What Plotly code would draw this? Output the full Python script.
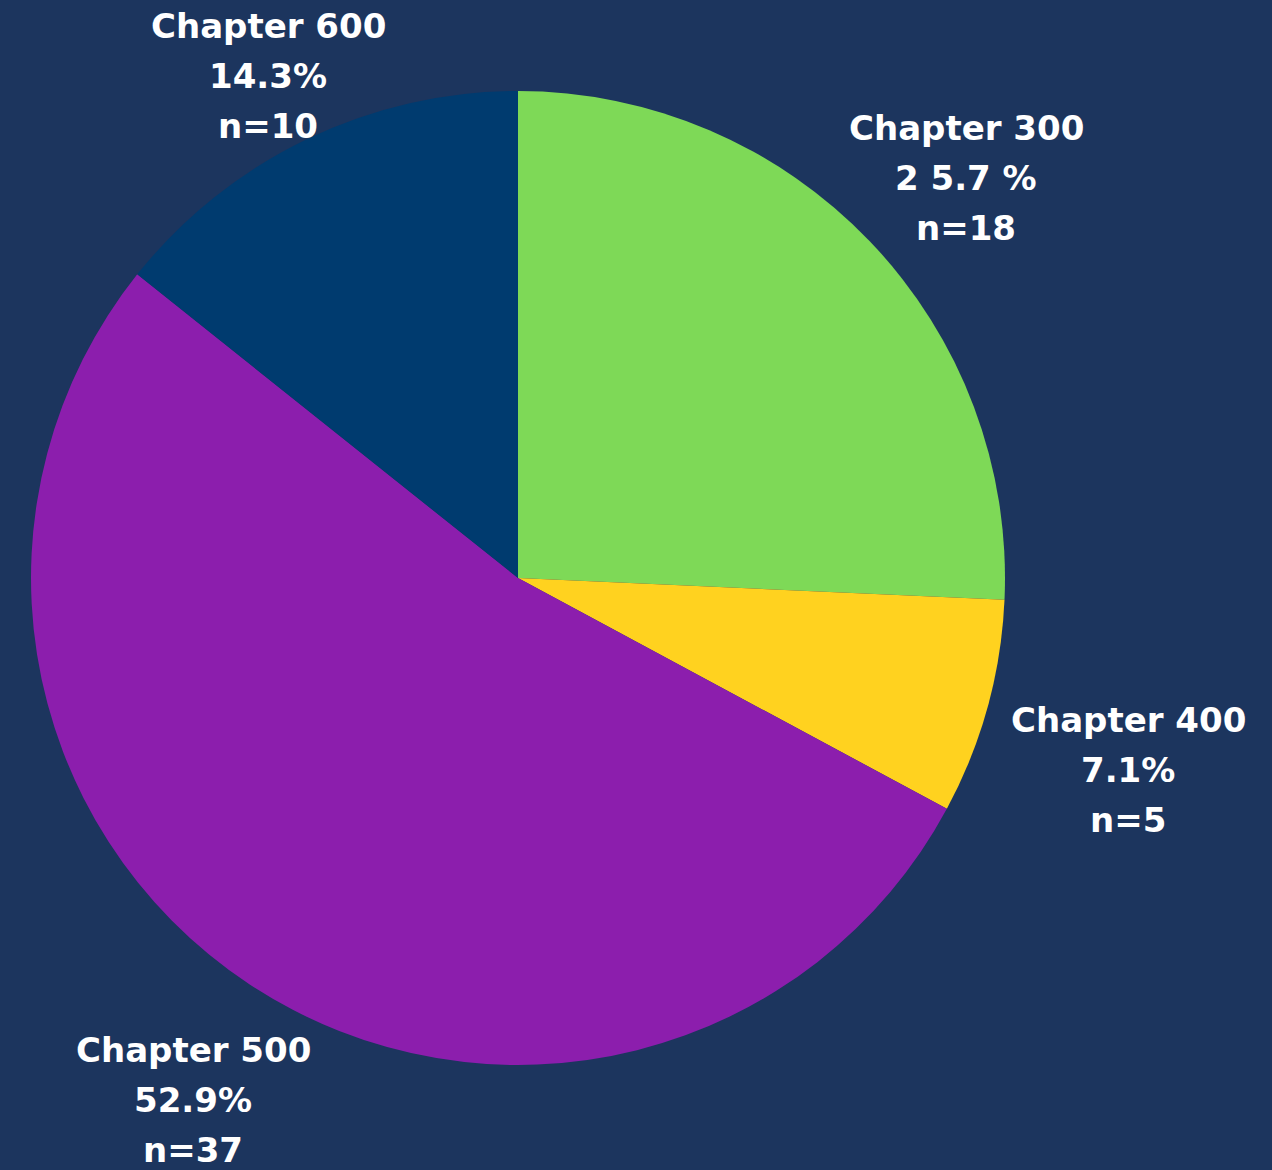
import plotly.graph_objects as go

W, H = 1272, 1170

categories = ["Chapter 300", "Chapter 400", "Chapter 500", "Chapter 600"]
counts = [18, 5, 37, 10]
pct_labels = ["2 5.7 %", "7.1%", "52.9%", "14.3%"]
colors = ["#7ED957", "#FFD21F", "#8C1EAD", "#003B6F"]
# label centre positions in pixels (x, y of first line)
label_pos = [(966, 128), (1128, 720), (193, 1050), (268, 26)]

cx, cy, r = 518, 578, 487

fig = go.Figure(go.Pie(
    labels=categories,
    values=counts,
    sort=False,
    direction="clockwise",
    rotation=0,
    textinfo="none",
    hoverinfo="label+value+percent",
    marker=dict(colors=colors, line=dict(width=0)),
    showlegend=False,
    domain=dict(x=[(cx - r) / W, (cx + r) / W], y=[1 - (cy + r) / H, 1 - (cy - r) / H]),
))

font = dict(family="'DejaVu Sans', sans-serif", size=34, color="white", weight="bold")
for cat, n, p, (lx, ly) in zip(categories, counts, pct_labels, label_pos):
    lines = [cat, p, f"n={n}"]
    for i, t in enumerate(lines):
        fig.add_annotation(
            x=lx / W, y=1 - (ly + i * 50) / H, xref="paper", yref="paper",
            text=f"<b>{t}</b>", showarrow=False, font=font,
            xanchor="center", yanchor="middle",
        )

fig.update_layout(
    width=W, height=H,
    margin=dict(l=0, r=0, t=0, b=0),
    paper_bgcolor="#1C355E",
    plot_bgcolor="#1C355E",
)

fig.write_html(
    "out.html",
    config={"displayModeBar": False},
    post_script="document.body.style.margin='0';document.body.style.background='#1C355E';",
)
